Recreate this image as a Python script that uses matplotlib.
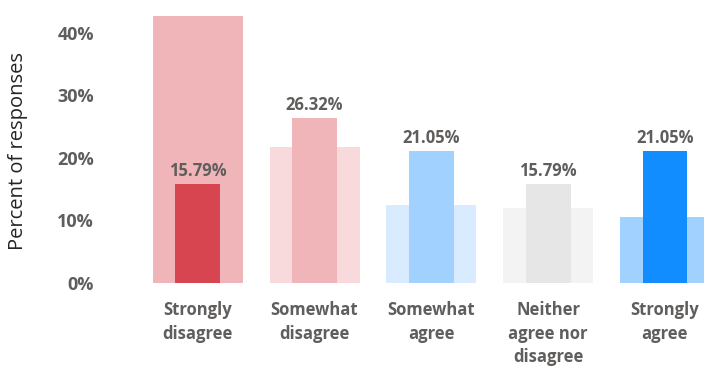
import numpy as np
import matplotlib
matplotlib.use("Agg")
import matplotlib.pyplot as plt

# response categories and the two series drawn per category
categories = ["Strongly\ndisagree", "Somewhat\ndisagree", "Somewhat\nagree",
              "Neither\nagree nor\ndisagree", "Strongly\nagree"]
share = [15.79, 26.32, 21.05, 15.79, 21.05]          # narrow front bars
benchmark = [42.7, 21.7, 12.5, 12.0, 10.6]            # wide back bars
yticks = [0, 10, 20, 30, 40]

front_colors = ["#D64550", "#EFB5B9", "#A0D1FF", "#E6E6E6", "#118DFF"]
back_colors = ["#EFB5B9", "#F9DADC", "#D9EBFF", "#F3F3F3", "#A0D1FF"]

plt.rcParams["font.family"] = ["Open Sans", "DejaVu Sans"]
text_gray = "#605E5C"

fig = plt.figure(figsize=(7.04, 3.70), dpi=100)
ax = fig.add_axes([130 / 704, 87 / 370, 574 / 704, 267 / 370])

x = np.arange(len(categories))
ax.bar(x, benchmark, width=0.77, color=back_colors, zorder=1)
bars = ax.bar(x, share, width=0.385, color=front_colors, zorder=2)

for xi, v in zip(x, share):
    ax.annotate(f"{v:.2f}%", (xi, v), xytext=(0, 3), textcoords="offset points",
                ha="center", va="bottom", fontsize=12, fontweight="bold",
                color=text_gray)

ax.set_xlim(-0.58, 4.334)
ax.set_ylim(0, 42.7)
ax.set_yticks(yticks)
ax.set_yticklabels([f"{t}%" for t in yticks], fontsize=13, fontweight="bold",
                   color=text_gray)
ax.set_xticks(x)
ax.set_xticklabels(categories, fontsize=12, fontweight="bold", color=text_gray,
                   linespacing=1.4)
ax.tick_params(axis="y", length=0, pad=26)
ax.tick_params(axis="x", length=0, pad=13)
for s in ax.spines.values():
    s.set_visible(False)

fig.text(18 / 704, 1 - 151 / 370, "Percent of responses", rotation=90,
         ha="center", va="center", fontsize=14.5, color="#252423")

fig.savefig("out.png", dpi=100, facecolor="white")
